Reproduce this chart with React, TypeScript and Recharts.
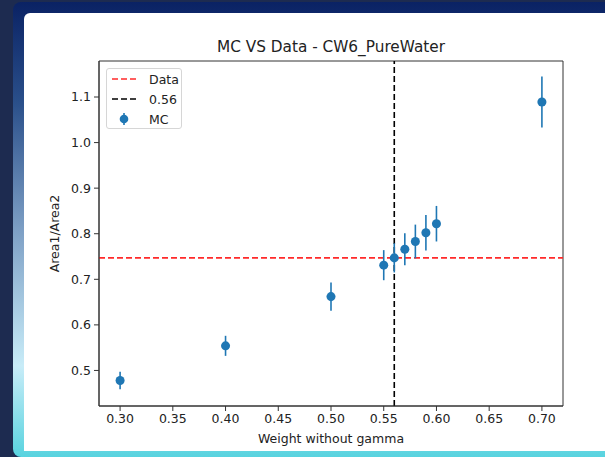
import React from 'react';
import {
  ScatterChart, Scatter, XAxis, YAxis, ErrorBar, ReferenceLine, ReferenceArea, Legend,
} from 'recharts';

// MC scan over the weight applied without gamma
const weights = [0.30, 0.40, 0.50, 0.55, 0.56, 0.57, 0.58, 0.59, 0.60, 0.70];
const ratios = [0.478, 0.554, 0.662, 0.731, 0.747, 0.766, 0.783, 0.802, 0.822, 1.089];
const ratioErrors = [0.019, 0.022, 0.031, 0.033, 0.032, 0.035, 0.037, 0.039, 0.039, 0.056];

const dataRatio = 0.747;
const chosenWeight = 0.56;

const xTicks = [0.30, 0.35, 0.40, 0.45, 0.50, 0.55, 0.60, 0.65, 0.70];
const yTicks = [0.5, 0.6, 0.7, 0.8, 0.9, 1.0, 1.1];
const xDomain: [number, number] = [0.28, 0.72];
const yDomain: [number, number] = [0.422, 1.179];

const mc = weights.map((w, i) => ({ w, ratio: ratios[i], err: ratioErrors[i] }));

const FONT = '"DejaVu Sans", sans-serif';
const BLUE = '#1f77b4';

function LegendBox() {
  const row = { display: 'flex', alignItems: 'center', height: 20 } as const;
  return (
    <div style={{
      width: 76, height: 61, boxSizing: 'border-box', border: '1px solid #d6d6d6', borderRadius: 3,
      background: 'rgba(255,255,255,0.85)', padding: '0 0 0 4px', fontFamily: FONT, fontSize: 12.5, color: '#222',
    }}>
      <div style={row}>
        <svg width={28} height={10}><line x1={1} x2={26} y1={5} y2={5} stroke="#ff2a2a" strokeWidth={1.6} strokeDasharray="6 3" /></svg>
        <span style={{ marginLeft: 10 }}>Data</span>
      </div>
      <div style={row}>
        <svg width={28} height={10}><line x1={1} x2={26} y1={5} y2={5} stroke="#000" strokeWidth={1.6} strokeDasharray="6 3" /></svg>
        <span style={{ marginLeft: 10 }}>0.56</span>
      </div>
      <div style={row}>
        <svg width={28} height={14}>
          <line x1={13} x2={13} y1={1} y2={13} stroke={BLUE} strokeWidth={1.6} />
          <circle cx={13} cy={7} r={4.3} fill={BLUE} />
        </svg>
        <span style={{ marginLeft: 10 }}>MC</span>
      </div>
    </div>
  );
}

export default function App() {
  return (
    <div style={{ position: 'fixed', left: 0, top: 0, width: 605, height: 457, overflow: 'hidden', background: '#1d2b50' }}>
      <div style={{
        position: 'absolute', left: 13, top: 2, right: -20, bottom: 0, borderRadius: 8,
        background: 'linear-gradient(#0a2264 0%, #2a4f8a 22%, #7d9fc5 50%, #c8ecf8 80%, #58d3df 100%)',
      }} />
      <div style={{ position: 'absolute', left: 24, top: 13, right: -20, bottom: 6, background: '#fff', borderTopLeftRadius: 6 }} />
      <div style={{
        position: 'absolute', left: 99, top: 37, width: 464, textAlign: 'center',
        fontFamily: FONT, fontSize: 15.3, color: '#222', lineHeight: '20px',
      }}>
        MC VS Data - CW6_PureWater
      </div>
      <div style={{ position: 'absolute', left: 0, top: 0 }}>
        <ScatterChart width={605} height={457} margin={{ top: 61, right: 42, bottom: 1, left: 49 }}>
          <XAxis
            type="number" dataKey="w" domain={xDomain} ticks={xTicks} allowDataOverflow
            tickFormatter={(v: number) => v.toFixed(2)} height={50}
            tick={{ fontSize: 12.5, fill: '#222', fontFamily: FONT }}
            tickSize={5} tickMargin={3} stroke="#333"
            label={{ value: 'Weight without gamma', position: 'insideBottom', offset: 13, fontSize: 12.5, fill: '#222', fontFamily: FONT }}
          />
          <YAxis
            type="number" dataKey="ratio" domain={yDomain} ticks={yTicks} allowDataOverflow
            tickFormatter={(v: number) => v.toFixed(1)} width={50}
            tick={{ fontSize: 12.5, fill: '#222', fontFamily: FONT }}
            tickSize={5} tickMargin={3} stroke="#333"
            label={{ value: 'Area1/Area2', angle: -90, position: 'insideLeft', offset: 6, fontSize: 12.5, fill: '#222', fontFamily: FONT, style: { textAnchor: 'middle' } }}
          />
          <ReferenceArea x1={xDomain[0]} x2={xDomain[1]} y1={yDomain[0]} y2={yDomain[1]} fill="none" stroke="#333" strokeWidth={1} ifOverflow="visible" />
          <ReferenceLine y={dataRatio} stroke="#ff2a2a" strokeWidth={1.6} strokeDasharray="6 3" />
          <ReferenceLine x={chosenWeight} stroke="#000" strokeWidth={1.6} strokeDasharray="6 3" />
          <Scatter data={mc} fill={BLUE} isAnimationActive={false}>
            <ErrorBar dataKey="err" direction="y" width={0} stroke={BLUE} strokeWidth={1.6} />
          </Scatter>
          <Legend
            layout="vertical" align="center" verticalAlign="middle"
            wrapperStyle={{ position: 'absolute', left: 106, top: 68, width: 'auto' }}
            content={() => <LegendBox />}
          />
        </ScatterChart>
      </div>
    </div>
  );
}
